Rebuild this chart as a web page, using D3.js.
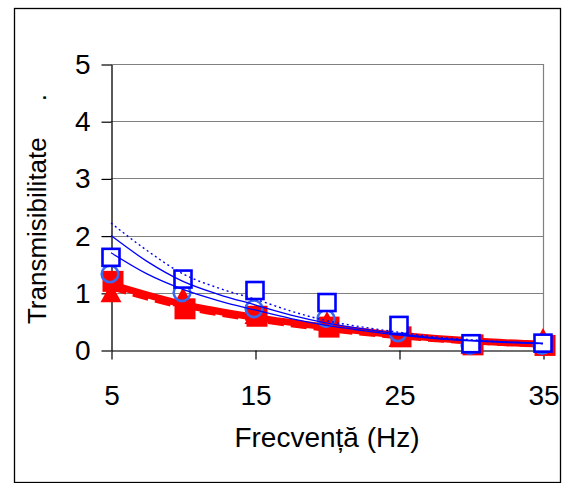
<!DOCTYPE html>
<html>
<head>
<meta charset="utf-8">
<script src="https://cdn.jsdelivr.net/npm/d3@7"></script>
<style>
  body { margin: 0; background: #fff; }
  svg { display: block; }
  text { font-family: Arial, "Liberation Sans", sans-serif; fill: #000; }
</style>
</head>
<body>
<svg id="chart" width="565" height="483"></svg>
<script>
// Measured frequencies (Hz)
const freqs = [5, 10, 15, 20, 25, 30, 35];
// Frequencies at which the fitted curves are sampled
const curveFreqs = [5, 7.5, 10, 12.5, 15, 17.5, 20, 22.5, 25, 27.5, 30, 32.5, 35];

// Measured transmissibility
const openSquares  = [1.62, 1.24, 1.04, 0.83, 0.43, 0.11, 0.12];
const openCircles  = [1.33, 1.00, 0.72, 0.55, 0.30, 0.08, 0.08];
const redSquares   = [1.20, 0.72, 0.59, 0.40, 0.23, 0.09, 0.08];
const redTriangles = [1.00, 0.93, 0.62, 0.51, 0.22, 0.10, 0.22];

// Trend of the red series (thick band)
const redTrend    = [1.15, 0.80, 0.57, 0.40, 0.26, 0.16, 0.10];
const redTrendAlt = [1.10, 0.76, 0.54, 0.37, 0.24, 0.15, 0.10];

// Fitted curves for the blue series
const blueDotted = [2.22, 1.74, 1.33, 1.08, 0.89, 0.68, 0.51, 0.40, 0.31, 0.23, 0.18, 0.14, 0.11];
const blueUpper  = [2.00, 1.55, 1.20, 0.97, 0.79, 0.61, 0.47, 0.37, 0.28, 0.21, 0.17, 0.14, 0.12];
const blueLower  = [1.70, 1.33, 1.06, 0.86, 0.70, 0.55, 0.43, 0.34, 0.26, 0.20, 0.16, 0.13, 0.11];

const xTicks = [5, 15, 25, 35];
const yTicks = [0, 1, 2, 3, 4, 5];

const xTitle = "Frecvență (Hz)";
const yTitle = "Transmisibilitate     .";

const svg = d3.select("#chart");
const plotLeft = 111, plotRight = 543, plotTop = 64, plotBottom = 350;
const labelSize = 28;

const x = d3.scaleLinear().domain([5, 35]).range([plotLeft, plotRight]);
const y = d3.scaleLinear().domain([0, 5]).range([plotBottom, plotTop]);

// outer frame
svg.append("rect")
  .attr("x", 14.5).attr("y", 8.5)
  .attr("width", 546).attr("height", 474)
  .attr("fill", "none").attr("stroke", "#000").attr("stroke-width", 1.3);

// horizontal gridlines
svg.append("g").selectAll("line")
  .data(yTicks.filter(d => d > 0))
  .join("line")
  .attr("x1", plotLeft).attr("x2", plotRight)
  .attr("y1", d => Math.round(y(d)) + 0.5).attr("y2", d => Math.round(y(d)) + 0.5)
  .attr("stroke", "#808080").attr("stroke-width", 1.2);

// right edge of plot area
svg.append("line")
  .attr("x1", plotRight + 0.5).attr("x2", plotRight + 0.5)
  .attr("y1", plotTop).attr("y2", plotBottom)
  .attr("stroke", "#808080").attr("stroke-width", 1.2);

// y axis
const yAxis = svg.append("g")
  .attr("transform", `translate(${plotLeft + 0.5},0.5)`)
  .call(d3.axisLeft(y).tickValues(yTicks).tickSize(10).tickSizeOuter(0).tickPadding(11).tickFormat(d3.format("d")));
yAxis.select(".domain").attr("stroke", "#000").attr("stroke-width", 1.3);
yAxis.selectAll(".tick line").attr("stroke", "#000").attr("stroke-width", 1.2);
yAxis.selectAll("text").attr("font-size", labelSize).attr("font-family", "Arial, 'Liberation Sans', sans-serif");

// x axis
const xAxis = svg.append("g")
  .attr("transform", `translate(0.5,${plotBottom + 0.5})`)
  .call(d3.axisBottom(x).tickValues(xTicks).tickSize(9).tickSizeOuter(0).tickPadding(26).tickFormat(d3.format("d")));
xAxis.select(".domain").attr("stroke", "#404040").attr("stroke-width", 1.3);
xAxis.selectAll(".tick line").attr("stroke", "#000").attr("stroke-width", 1.2);
xAxis.selectAll("text").attr("font-size", labelSize).attr("font-family", "Arial, 'Liberation Sans', sans-serif");

// axis titles
svg.append("text")
  .attr("x", (plotLeft + plotRight) / 2).attr("y", 447)
  .attr("text-anchor", "middle").attr("font-size", labelSize)
  .text(xTitle);

svg.append("text")
  .attr("transform", `translate(46,209) rotate(-90)`)
  .attr("text-anchor", "middle").attr("font-size", 26)
  .style("white-space", "pre")
  .text(yTitle);

const plot = svg.append("g");

// red trend band
const redLine = d3.line().x((d, i) => x(freqs[i])).y(d => y(d)).curve(d3.curveMonotoneX);
plot.append("path").datum(redTrend)
  .attr("d", redLine).attr("fill", "none")
  .attr("stroke", "#ff0000").attr("stroke-width", 7).attr("stroke-linejoin", "round");
plot.append("path").datum(redTrendAlt)
  .attr("d", redLine).attr("fill", "none")
  .attr("stroke", "#ff0000").attr("stroke-width", 6).attr("stroke-dasharray", "16,7");

// red filled squares
const rs = 21;
plot.append("g").selectAll("rect")
  .data(redSquares)
  .join("rect")
  .attr("x", (d, i) => x(freqs[i]) - rs / 2 + 2)
  .attr("y", d => y(d) - rs / 2)
  .attr("width", rs).attr("height", rs)
  .attr("fill", "#ff0000");

// red filled triangles
const tw = 21, th = 19;
plot.append("g").selectAll("path")
  .data(redTriangles)
  .join("path")
  .attr("d", (d, i) => {
    const cx = x(freqs[i]), cy = y(d);
    return `M${cx},${cy - th / 2}L${cx + tw / 2},${cy + th / 2}L${cx - tw / 2},${cy + th / 2}Z`;
  })
  .attr("fill", "#ff0000");

// blue open circles
plot.append("g").selectAll("circle")
  .data(openCircles)
  .join("circle")
  .attr("cx", (d, i) => x(freqs[i]) - 1)
  .attr("cy", d => y(d))
  .attr("r", 8.3)
  .attr("fill", "none")
  .attr("stroke", "#3a68f0").attr("stroke-width", 2.6);

// blue open squares
const bs = 17;
plot.append("g").selectAll("rect")
  .data(openSquares)
  .join("rect")
  .attr("x", (d, i) => x(freqs[i]) - bs / 2)
  .attr("y", d => y(d) - bs / 2)
  .attr("width", bs).attr("height", bs)
  .attr("fill", "#fff")
  .attr("stroke", "#0000ff").attr("stroke-width", 2.6);

// blue fitted curves
const blueLine = d3.line().x((d, i) => x(curveFreqs[i])).y(d => y(d)).curve(d3.curveMonotoneX);
plot.append("path").datum(blueUpper)
  .attr("d", blueLine).attr("fill", "none")
  .attr("stroke", "#0000ff").attr("stroke-width", 1.3);
plot.append("path").datum(blueLower)
  .attr("d", blueLine).attr("fill", "none")
  .attr("stroke", "#0000ff").attr("stroke-width", 1.3);
plot.append("path").datum(blueDotted)
  .attr("d", blueLine).attr("fill", "none")
  .attr("stroke", "#0000ff").attr("stroke-width", 1.4).attr("stroke-dasharray", "2,3");
</script>
</body>
</html>
